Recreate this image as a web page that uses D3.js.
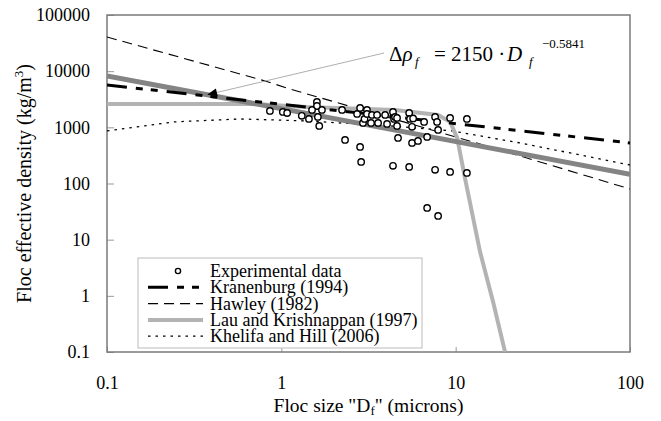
<!DOCTYPE html>
<html>
<head>
<meta charset="utf-8">
<script src="https://cdn.jsdelivr.net/npm/d3@7"></script>
</head>
<body style="margin:0">
<script>
// tick labels
const xTicks = [0.1, 1, 10, 100];
const yTicks = [0.1, 1, 10, 100, 1000, 10000, 100000];

// experimental data (floc size in microns, effective density kg/m3)
const expSize = [0.86, 1.02, 1.08, 1.31, 1.44, 1.60, 1.60, 1.50, 1.71, 1.62, 1.65,
  2.23, 2.32, 2.72, 2.83, 2.83, 2.87, 2.94, 3.00, 3.10, 3.10, 3.31, 3.27, 3.54, 3.59,
  3.94, 4.04, 4.37, 4.43, 4.49, 4.61, 4.61, 4.67, 4.37, 5.41, 5.47, 5.70, 5.62, 5.62,
  6.08, 6.59, 6.86, 5.41, 7.62, 7.82, 7.93, 7.62, 9.29, 9.29, 11.6, 11.6, 6.86, 7.93];
const expDensity = [1960, 1880, 1800, 1600, 1410, 2830, 2400, 2040, 2040, 1530, 1060,
  2040, 597, 1730, 2210, 448, 242, 1200, 1410, 2040, 1730, 1660, 1200, 1660, 1200,
  1660, 1150, 1880, 1410, 1530, 1470, 1060, 647, 206, 1800, 1410, 1440, 1020, 527,
  573, 1250, 675, 197, 1530, 1250, 900, 175, 1470, 161, 1410, 154, 36.8, 26.5];

// model curves [size, density]
const kranenburg = [[0.1, 5680], [100, 527]];
const hawley = [[0.1, 40600], [0.806, 6700], [1.12, 4820], [14.4, 486], [100, 80]];
const lauKrishnappan = [[0.1, 2600], [0.697, 2600], [1.40, 2300], [4.49, 2040], [7.93, 1660],
  [9.29, 1250], [10.2, 647], [11.3, 126], [13.8, 6.07], [16.4, 0.78], [19.2, 0.1]];
const khelifaHill = [[0.1, 863], [0.242, 1250], [0.58, 1410], [1.40, 1300], [4.21, 1060],
  [9.53, 863], [23.4, 527], [100, 214]];
const fitLine = [[0.1, 8250], [100, 146]];
const fitArrowAt = [0.375, 3800];

const W = 661, H = 421;
const margin = { left: 107, right: 31, top: 15, bottom: 69 };
const FONT = '"Times New Roman"';

const svg = d3.select('body').append('svg')
  .attr('width', W).attr('height', H);

const x = d3.scaleLog().domain([0.1, 100]).range([margin.left, W - margin.right]);
const y = d3.scaleLog().domain([0.1, 100000]).range([H - margin.bottom, margin.top]);

svg.append('defs').append('clipPath').attr('id', 'plotclip')
  .append('rect')
  .attr('x', x.range()[0]).attr('y', y.range()[1])
  .attr('width', x.range()[1] - x.range()[0])
  .attr('height', y.range()[0] - y.range()[1]);

// axes
const yAxis = d3.axisLeft(y).tickValues(yTicks).tickSize(-7).tickPadding(17)
  .tickFormat(d => String(d));
const xAxis = d3.axisBottom(x).tickValues(xTicks).tickSize(-5).tickPadding(24)
  .tickFormat(d => String(d));

const gy = svg.append('g').attr('transform', `translate(${margin.left},0)`).call(yAxis);
const gx = svg.append('g').attr('transform', `translate(0,${H - margin.bottom})`).call(xAxis);
[gx, gy].forEach(g => {
  g.attr('font-family', null).attr('font-size', null);
  g.select('.domain').remove();
  g.selectAll('.tick line').attr('stroke', '#999').attr('stroke-width', 1);
  g.selectAll('.tick text').attr('fill', '#000')
    .style('font-family', FONT).style('font-size', '18px');
});

// plot frame
svg.append('rect')
  .attr('x', x.range()[0]).attr('y', y.range()[1])
  .attr('width', x.range()[1] - x.range()[0])
  .attr('height', y.range()[0] - y.range()[1])
  .attr('fill', 'none').attr('stroke', '#7a7a7a').attr('stroke-width', 1.5);

const line = d3.line().x(d => x(d[0])).y(d => y(d[1]));
const plot = svg.append('g').attr('clip-path', 'url(#plotclip)');

const styles = {
  kran: { stroke: '#000', width: 3, dash: '20,9,7,8,7,9' },
  hawley: { stroke: '#000', width: 1.1, dash: '10,6' },
  lau: { stroke: '#b3b3b3', width: 4, dash: null },
  khelifa: { stroke: '#000', width: 1.3, dash: '2.5,5' },
  fit: { stroke: '#848484', width: 5, dash: null },
};

const drawCurve = (data, s) => plot.append('path')
  .attr('d', line(data))
  .attr('fill', 'none')
  .attr('stroke', s.stroke)
  .attr('stroke-width', s.width)
  .attr('stroke-dasharray', s.dash);

drawCurve(hawley, styles.hawley);
drawCurve(khelifaHill, styles.khelifa);
drawCurve(lauKrishnappan, styles.lau);
drawCurve(fitLine, styles.fit);
drawCurve(kranenburg, styles.kran);

// experimental points
plot.selectAll('circle.exp').data(d3.range(expSize.length)).enter()
  .append('circle').attr('class', 'exp')
  .attr('cx', i => x(expSize[i]))
  .attr('cy', i => y(expDensity[i]))
  .attr('r', 3.2)
  .attr('fill', '#fff').attr('stroke', '#000').attr('stroke-width', 1.4);

// annotation of fitted curve
const tip = [x(fitArrowAt[0]), y(fitArrowAt[1])];
const start = [384, 53];
svg.append('line')
  .attr('x1', start[0]).attr('y1', start[1])
  .attr('x2', tip[0]).attr('y2', tip[1])
  .attr('stroke', '#999').attr('stroke-width', 0.8);
const ang = Math.atan2(start[1] - tip[1], start[0] - tip[0]) * 180 / Math.PI;
svg.append('path')
  .attr('d', 'M0,0 L10,-4 L10,4 Z')
  .attr('transform', `translate(${tip[0]},${tip[1]}) rotate(${ang})`)
  .attr('fill', '#000');

const addText = (parent, size) => parent.append('text')
  .style('font-family', FONT).style('font-size', size + 'px').attr('fill', '#000');

const eq = addText(svg, 21).attr('y', 61);
eq.append('tspan').attr('x', 389).text('Δ');
eq.append('tspan').style('font-style', 'italic').text('ρ');
eq.append('tspan').attr('x', 415).attr('y', 66).style('font-size', '13px')
  .style('font-style', 'italic').text('f');
eq.append('tspan').attr('x', 434).attr('y', 61).text('= 2150 ·');
eq.append('tspan').attr('x', 507).style('font-style', 'italic').text('D');
eq.append('tspan').attr('x', 529).attr('y', 66).style('font-size', '13px')
  .style('font-style', 'italic').text('f');
eq.append('tspan').attr('x', 542).attr('y', 48).style('font-size', '13px').text('−0.5841');

// axis titles
const yt = addText(svg, 20)
  .attr('transform', `translate(31,${(y.range()[0] + y.range()[1]) / 2}) rotate(-90)`)
  .attr('text-anchor', 'middle');
yt.append('tspan').text('Floc effective density (kg/m');
yt.append('tspan').attr('dy', -8).style('font-size', '13px').text('3');
yt.append('tspan').attr('dy', 8).text(')');

const xt = addText(svg, 19.5)
  .attr('x', (x.range()[0] + x.range()[1]) / 2).attr('y', 412)
  .attr('text-anchor', 'middle');
xt.append('tspan').text('Floc size "D');
xt.append('tspan').attr('dy', 3).style('font-size', '13px').text('f');
xt.append('tspan').attr('dy', -3).text('" (microns)');

// legend
const legend = svg.append('g').attr('transform', 'translate(138,258)');
legend.append('rect').attr('width', 284).attr('height', 90)
  .attr('fill', '#fff').attr('stroke', '#bbb').attr('stroke-width', 1);
const legendItems = [
  { label: 'Experimental data', key: 'exp' },
  { label: 'Kranenburg (1994)', key: 'kran' },
  { label: 'Hawley (1982)', key: 'hawley' },
  { label: 'Lau and Krishnappan (1997)', key: 'lau' },
  { label: 'Khelifa and Hill (2006)', key: 'khelifa' },
];
legendItems.forEach((item, i) => {
  const cy = 13 + i * 16.3;
  if (item.key === 'exp') {
    legend.append('circle').attr('cx', 40).attr('cy', cy).attr('r', 2.6)
      .attr('fill', '#fff').attr('stroke', '#000').attr('stroke-width', 1.4);
  } else {
    const s = styles[item.key];
    legend.append('line').attr('x1', 10).attr('x2', 65).attr('y1', cy).attr('y2', cy)
      .attr('stroke', s.stroke).attr('stroke-width', Math.min(s.width, 4))
      .attr('stroke-dasharray', s.dash);
  }
  addText(legend, 18).attr('x', 72).attr('y', cy).attr('dy', '0.33em').text(item.label);
});
</script>
</body>
</html>
